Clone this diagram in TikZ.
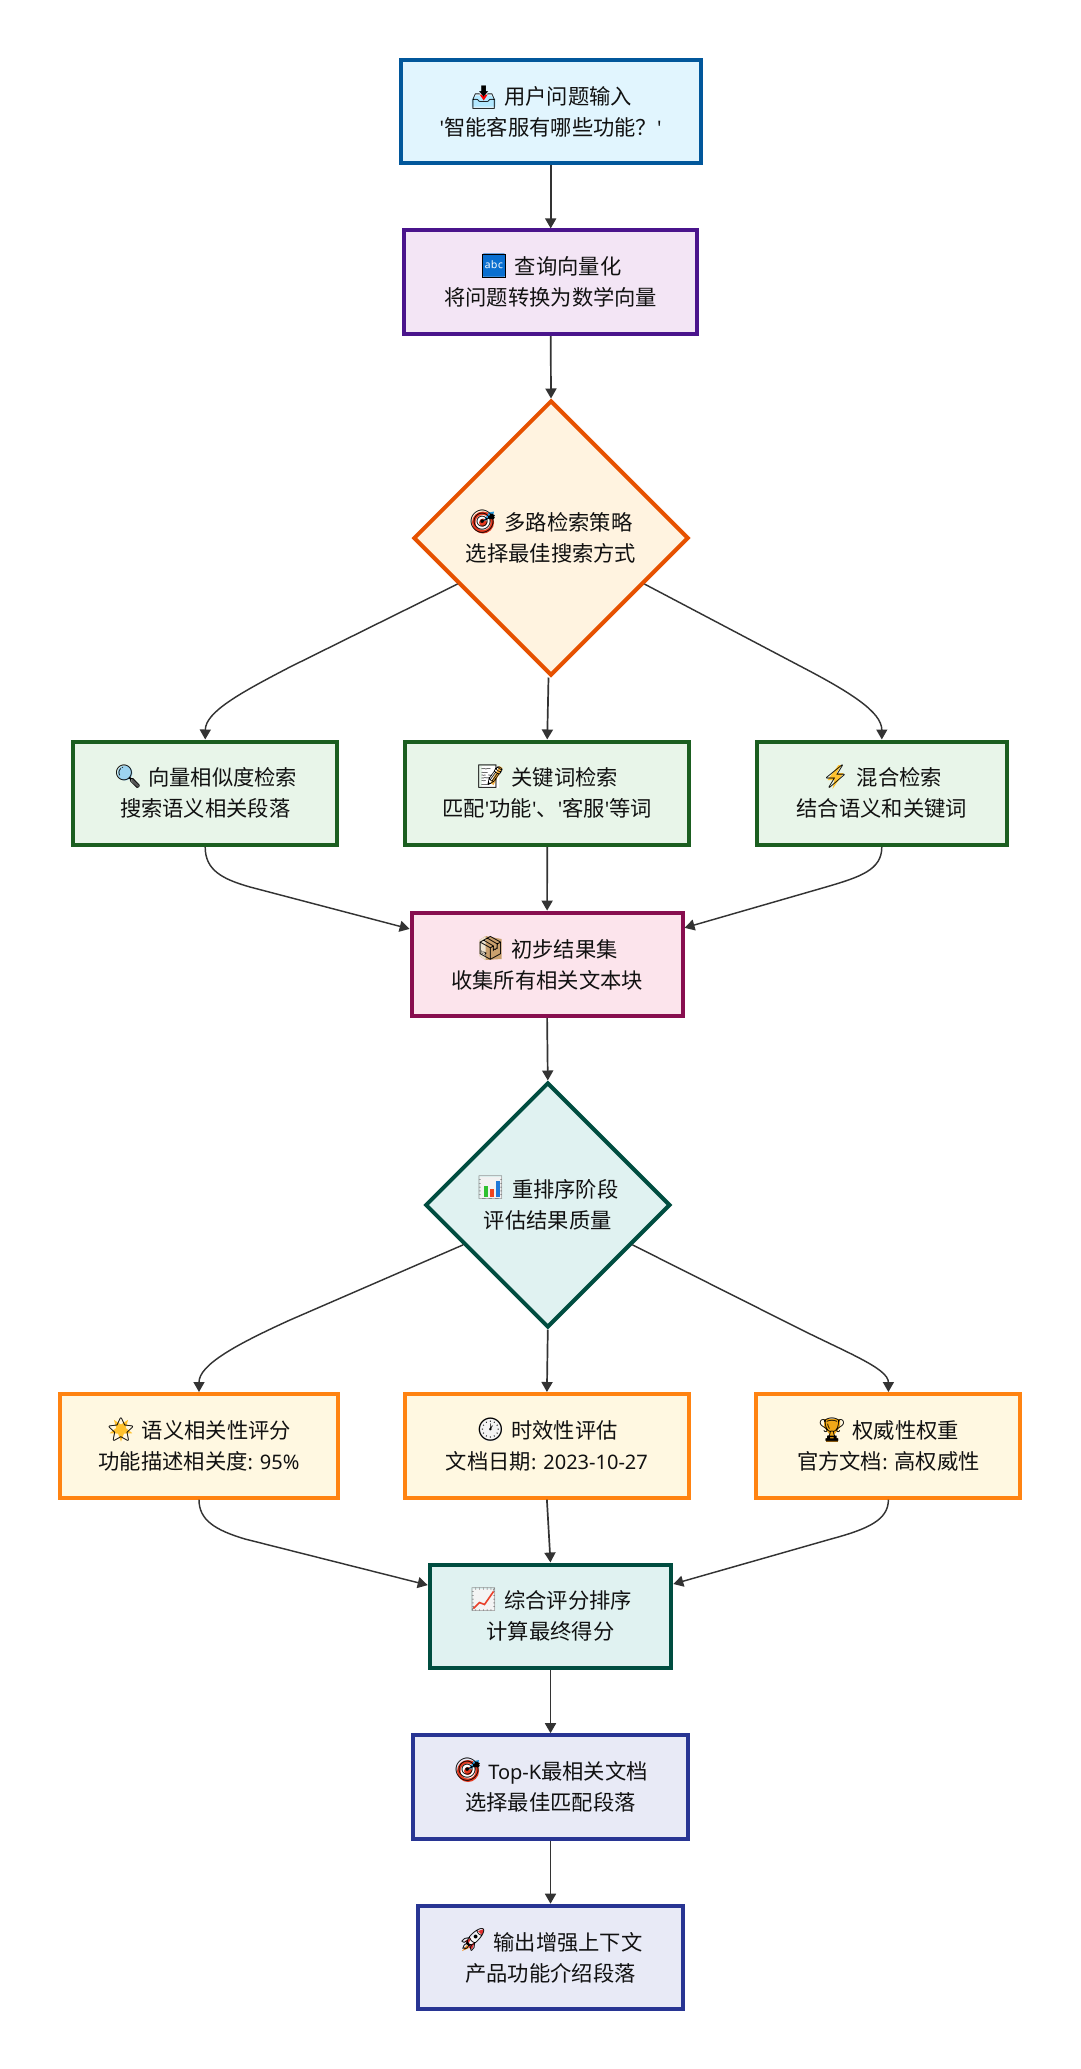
\documentclass[tikz,border=0pt]{standalone}
\usepackage{fontspec}
\usetikzlibrary{shapes.geometric,arrows.meta,calc}
\setmainfont{Noto Sans CJK SC}
\newfontfamily\latfont[Scale=0.94]{Noto Sans}
\newfontfamily\emofont{Noto Emoji}
\newcommand{\lat}[1]{{\latfont #1}}
\newcommand{\icongap}{\hspace*{35pt}}
\definecolor{inkc}{HTML}{111111}
\definecolor{linec}{HTML}{333333}
\tikzset{
  flow/.style={draw,line width=4pt,inner sep=0pt,align=center,text=inkc,
    font=\fontsize{21.3}{31}\selectfont,miter limit=10},
  boxnode/.style={flow,rectangle,minimum width=#1,minimum height=103.6pt},
  dianode/.style={flow,diamond,aspect=1,minimum width=#1,minimum height=#1},
  sA/.style={fill=cA,draw=dA}, sB/.style={fill=cB,draw=dB}, sC/.style={fill=cC,draw=dC},
  sD/.style={fill=cD,draw=dD}, sE/.style={fill=cE,draw=dE}, sF/.style={fill=cF,draw=dF},
  sG/.style={fill=cG,draw=dG}, sH/.style={fill=cH,draw=dH},
  conn/.style={draw=linec,line width=1.7pt,-{Triangle[width=11pt,length=10pt,fill=linec]}},
  curveconn/.style={conn,line width=1.45pt},
  emo/.style={inner sep=0pt,text=black,font=\emofont\fontsize{23}{23}\selectfont},
  emoblue/.style={emo,text=HTML0A6FD0},
  emogray/.style={emo,text=HTML888888},
  bgTray/.pic={\fill[blue!30!cyan!30] (-12,2)--(-7,-2)--(7,-2)--(12,2)--(12,9)--(-12,9)--cycle;
     \fill[red] (-1.5,-10) rectangle (1.5,-2) (-4,-3)--(4,-3)--(0,3)--cycle;},
  bgAbc/.pic={\fill[white] (-11,-11) rectangle (11,11);},
  edgeAbc/.pic={\draw[black,line width=1pt] (-11.5,-11.5) rectangle (11.5,11.5);},
  bgTarget/.pic={\fill[HTMLE53A20] (0,1) circle (11); \fill[white] (0,1) circle (7.5); \fill[HTMLE53A20] (0,1) circle (4);
     \fill[HTML2A9BE0] (0,0)--(6,-9)--(11,-10)--(10,-5)--cycle;},
  bgSearch/.pic={\fill[HTML9CD3F0] (-3,-4) circle (7.5); \fill[HTML555555] (3,3)--(5,1)--(11,8)--(9,11)--cycle;},
  bgMemo/.pic={\fill[white] (-9,-11) rectangle (8,11); \fill[HTMLF5B041] (0,6)--(9,-11)--(12,-9)--(3,8)--cycle;},
  bgBolt/.pic={\fill[HTMLFFC22E] (3,-12)--(-8,3)--(-1,3)--(-3,12)--(8,-4)--(1,-4)--(6,-12)--cycle;},
  bgBox/.pic={\fill[HTMLC9A06E] (-11,-8)--(-5,-12)--(11,-9)--(11,11)--(-5,12)--(-11,8)--cycle;
     \fill[HTMLEFE3D0] (-11,-8)--(-5,-12)--(-5,12)--(-11,8)--cycle;},
  bgChart/.pic={\fill[HTMLF2F2F2] (-11,-11) rectangle (11,11);},
  overChart/.pic={\fill[HTMLF2F2F2] (-9.5,-9.5) rectangle (9.5,9.5);
     \fill[HTML2FC02F] (-7,-2) rectangle (-3,9); \fill[HTMLF0441E] (-1,1) rectangle (3,9); \fill[HTML1E78D8] (5,-7) rectangle (9,9);},
  bgStar/.pic={\fill[HTMLFFC22E] (90:12)--(126:5)--(162:12)--(198:5)--(234:12)--(270:5)--(306:12)--(342:5)--(18:12)--(54:5)--cycle;},
  bgClock/.pic={\fill[HTMLF4F4F4] (0,0) circle (11.5);},
  bgTrophy/.pic={\fill[HTMLF0A818] (-8,-11) rectangle (8,-3) (-8,-3)--(8,-3)--(2,5)--(-2,5)--cycle (-2,5) rectangle (2,8);
     \fill[HTML8A5A10] (-6,8) rectangle (6,12);},
  bgUp/.pic={\fill[HTMLF4F4F4] (-11,-11) rectangle (11,11);},
  overUp/.pic={\fill[HTMLF4F4F4] (-9.5,-9.5) rectangle (9.5,9.5); \draw[HTMLE8402A,line width=1.6pt] (-10,9)--(-4,3)--(1,5)--(10,-8);},
  bgRocket/.pic={\fill[HTMLF8F8F8] (-6,5)--(-2,-2)--(5,-9)--(11,-11)--(9,-5)--(2,2)--(-5,7)--cycle;
     \fill[HTMLE03030] (5,-9)--(11,-11)--(9,-5)--cycle (-8,1)--(-2,-2)--(-5,5)--cycle (2,2)--(-1,9)--(-5,7)--cycle;
     \fill[HTMLF89020] (-6,5)--(-11,11)--(-4,8)--cycle;}
}
\definecolor{HTML0A6FD0}{HTML}{0A6FD0}\definecolor{HTMLE53A20}{HTML}{E53A20}\definecolor{HTML2A9BE0}{HTML}{2A9BE0}
\definecolor{HTML9CD3F0}{HTML}{9CD3F0}\definecolor{HTML555555}{HTML}{555555}\definecolor{HTMLF5B041}{HTML}{F5B041}
\definecolor{HTMLFFC22E}{HTML}{FFC22E}\definecolor{HTMLC9A06E}{HTML}{C9A06E}\definecolor{HTMLEFE3D0}{HTML}{EFE3D0}
\definecolor{HTMLF2F2F2}{HTML}{F2F2F2}\definecolor{HTML2FC02F}{HTML}{2FC02F}\definecolor{HTMLF0441E}{HTML}{F0441E}
\definecolor{HTML1E78D8}{HTML}{1E78D8}\definecolor{HTMLF4F4F4}{HTML}{F4F4F4}\definecolor{HTMLF0A818}{HTML}{F0A818}
\definecolor{HTML8A5A10}{HTML}{8A5A10}\definecolor{HTMLE8402A}{HTML}{E8402A}\definecolor{HTMLF8F8F8}{HTML}{F8F8F8}
\definecolor{HTMLE03030}{HTML}{E03030}\definecolor{HTMLF89020}{HTML}{F89020}\definecolor{HTML888888}{HTML}{888888}
\definecolor{cA}{HTML}{E1F5FE}\definecolor{dA}{HTML}{01579B}
\definecolor{cB}{HTML}{F3E5F5}\definecolor{dB}{HTML}{4A148C}
\definecolor{cC}{HTML}{FFF3E0}\definecolor{dC}{HTML}{E65100}
\definecolor{cD}{HTML}{E8F5E9}\definecolor{dD}{HTML}{1B5E20}
\definecolor{cE}{HTML}{FCE4EC}\definecolor{dE}{HTML}{880E4F}
\definecolor{cF}{HTML}{E0F2F1}\definecolor{dF}{HTML}{004D40}
\definecolor{cG}{HTML}{FFF8E1}\definecolor{dG}{HTML}{FF8311}
\definecolor{cH}{HTML}{E8EAF6}\definecolor{dH}{HTML}{283593}
\begin{document}
\begin{tikzpicture}[x=1pt,y=-1pt]
\useasboundingbox (0,0) rectangle (1080,2069);
\fill[white] (0,0) rectangle (1080,2069);
% nodes
\node[boxnode=300pt,sA] (a) at (550.7,111.5) {\icongap 用户问题输入\\\lat{'}智能客服有哪些功能？\lat{'}};
\node[boxnode=292.7pt,sB] (b) at (550.7,282.2) {\icongap 查询向量化\\将问题转换为数学向量};
\node[dianode=275pt,sC] (d1) at (551,538) {\icongap 多路检索策略\\选择最佳搜索方式};
\node[boxnode=264.5pt,sD] (g1) at (205.2,793.3) {\icongap 向量相似度检索\\搜索语义相关段落};
\node[boxnode=284.5pt,sD] (g2) at (547.2,793.3) {\icongap 关键词检索\\匹配\lat{'}功能\lat{'}、\lat{'}客服\lat{'}等词};
\node[boxnode=249.6pt,sD] (g3) at (881.8,793.3) {\icongap 混合检索\\结合语义和关键词};
\node[boxnode=270.9pt,sE] (r) at (547.1,964.4) {\icongap 初步结果集\\收集所有相关文本块};
\node[dianode=245pt,sF] (d2) at (547.8,1205) {\icongap 重排序阶段\\评估结果质量};
\node[boxnode=278pt,sG] (o1) at (199,1445.8) {\icongap 语义相关性评分\\功能描述相关度\lat{: 95\%}};
\node[boxnode=284.3pt,sG] (o2) at (546.9,1445.8) {\icongap 时效性评估\\文档日期\lat{: 2023-10-27}};
\node[boxnode=264.1pt,sG] (o3) at (888.4,1445.8) {\icongap 权威性权重\\官方文档\lat{: }高权威性};
\node[boxnode=241.6pt,sF] (t) at (550.5,1616.3) {\icongap 综合评分排序\\计算最终得分};
\node[boxnode=275pt,sH] (k) at (550.5,1787) {\icongap \lat{Top-K}最相关文档\\选择最佳匹配段落};
\node[boxnode=265pt,sH] (u) at (550.5,1957.5) {\icongap 输出增强上下文\\产品功能介绍段落};
% icons
\pic at (483.7,97.5) {bgTray}; \node[emo] (e1) at (483.7,97.5) {📥};
\pic at (494,265.5) {bgAbc}; \node[emoblue] (e2) at (494,265.5) {🔤}; \pic at (494,265.5) {edgeAbc};
\pic at (483,521.5) {bgTarget}; \node[emo] (e3) at (483,521.5) {🎯};
\pic at (128,777) {bgSearch}; \node[emo] (e4) at (128,777) {🔍};
\pic at (490.5,777) {bgMemo}; \node[emo] (e5) at (490.5,777) {📝};
\pic at (835.5,777) {bgBolt}; \node[emo] (e6) at (835.5,777) {⚡};
\pic at (490.5,948) {bgBox}; \node[emo] (e7) at (490.5,948) {📦};
\pic at (490.5,1188) {bgChart}; \node[emogray] (e8) at (490.5,1188) {📊}; \pic at (490.5,1188) {overChart};
\pic at (121,1429.5) {bgStar}; \node[emo] (e9) at (121,1429.5) {⭐};
\pic at (490.5,1430) {bgClock}; \node[emo] (e10) at (490.5,1430) {🕐};
\pic at (832,1430) {bgTrophy}; \node[emo] (e11) at (832,1430) {🏆};
\pic at (483.5,1599.5) {bgUp}; \node[emogray] (e12) at (483.5,1599.5) {📈}; \pic at (483.5,1599.5) {overUp};
\pic at (468,1770) {bgTarget}; \node[emo] (e13) at (468,1770) {🎯};
\pic at (473,1940) {bgRocket}; \node[emo] (e14) at (473,1940) {🚀};
% connectors
\draw[conn] (a.south) -- (b.north);
\draw[conn] (b.south) -- (d1.north);
\draw[curveconn] ($(d1.west)!0.33!(d1.south)$) -- (290,667) .. controls (240,693) and (205.5,712) .. (g1.north);
\draw[conn] ($(d1.south)+(-2.5,0)$) -- (g2.north);
\draw[curveconn] ($(d1.east)!0.33!(d1.south)$) -- (800,666) .. controls (850,692) and (881.8,712) .. (g3.north);
\draw[curveconn] (g1.south) .. controls (205.2,870) and (222,879) .. (250,887) -- ($(r.north west)!0.17!(r.south west)$);
\draw[conn] (g2.south) -- (r.north);
\draw[curveconn] (g3.south) .. controls (881.8,870) and (860,877) .. (826,887) -- ($(r.north east)!0.16!(r.south east)$);
\draw[conn] (r.south) -- (d2.north);
\draw[curveconn] ($(d2.west)!0.32!(d2.south)$) -- (290,1320) .. controls (235,1345) and (199,1365) .. (o1.north);
\draw[conn] (d2.south) -- (o2.north);
\draw[curveconn] ($(d2.east)!0.32!(d2.south)$) -- (790,1324) .. controls (845,1352) and (888.4,1368) .. (o3.north);
\draw[curveconn] (o1.south) .. controls (199,1520) and (215,1530) .. (245,1539) -- ($(t.north west)!0.21!(t.south west)$);
\draw[conn] (o2.south) -- (t.north);
\draw[curveconn] (o3.south) .. controls (888.4,1520) and (868,1529) .. (831,1539) -- ($(t.north east)!0.2!(t.south east)$);
\draw[conn] (t.south) -- (k.north);
\draw[conn] (k.south) -- (u.north);
\end{tikzpicture}
\end{document}
